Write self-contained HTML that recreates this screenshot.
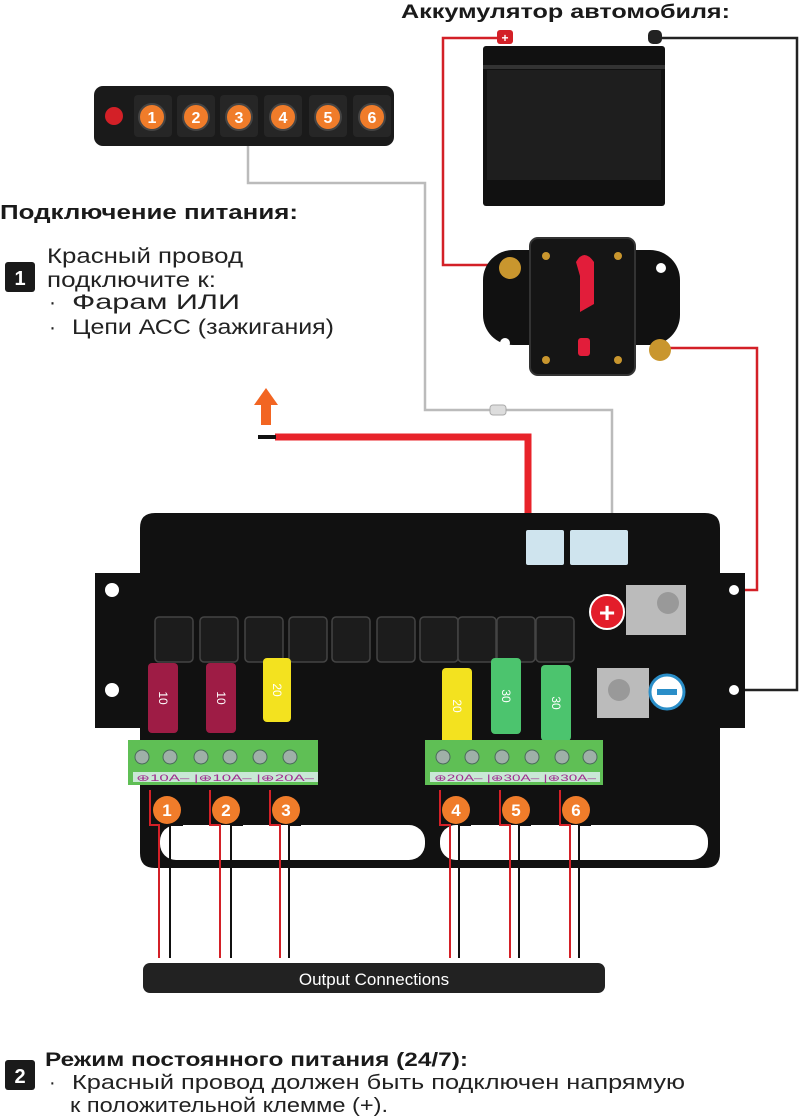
<!DOCTYPE html>
<html><head><meta charset="utf-8"><style>
body{margin:0;background:#fff;width:803px;height:1120px;overflow:hidden;font-family:"Liberation Sans",sans-serif}
svg{display:block}
</style></head><body>
<svg width="803" height="1120" viewBox="0 0 803 1120" xmlns="http://www.w3.org/2000/svg">
<!-- wires -->
<polyline points="505,38 443,38 443,265 505,265" fill="none" stroke="#d32027" stroke-width="2.5"/>
<polyline points="655,38 797,38 797,690 740,690" fill="none" stroke="#222" stroke-width="2.5"/>
<polyline points="668,348 757,348 757,590 690,590" fill="none" stroke="#d32027" stroke-width="2.5"/>
<polyline points="248,145 248,183 425,183 425,410 612,410 612,535" fill="none" stroke="#bbb" stroke-width="2.5"/>
<rect x="490" y="405" width="16" height="10" rx="3" fill="#ddd" stroke="#aaa"/>
<polyline points="275,437 528,437 528,532" fill="none" stroke="#e8232a" stroke-width="7"/>
<line x1="258" y1="437" x2="276" y2="437" stroke="#111" stroke-width="4"/>
<polygon points="266,388 278,405 271,405 271,425 261,425 261,405 254,405" fill="#f26522"/>

<!-- title -->
<text x="401" y="18" font-size="19" font-weight="bold" fill="#1a1a1a" textLength="329" lengthAdjust="spacingAndGlyphs">Аккумулятор автомобиля:</text>
<!-- battery -->
<rect x="497" y="30" width="16" height="14" rx="3" fill="#d32027"/>
<text x="505" y="42" font-size="12" fill="#fff" text-anchor="middle" font-weight="bold">+</text>
<rect x="648" y="30" width="14" height="14" rx="5" fill="#222"/>
<rect x="483" y="46" width="182" height="160" rx="3" fill="#111"/>
<rect x="487" y="70" width="174" height="110" fill="#1e1e1e"/>
<rect x="483" y="65" width="182" height="4" fill="#333"/>
<!-- button panel -->
<rect x="94" y="86" width="300" height="60" rx="9" fill="#1a1a1a"/>
<circle cx="114" cy="116" r="9" fill="#d32027"/>
<g font-size="16" font-weight="bold" fill="#fff" text-anchor="middle">
<rect x="134" y="95" width="38" height="42" rx="4" fill="#262626"/><circle cx="152" cy="117" r="13" fill="#f07c2a" stroke="#444" stroke-width="2"/><text x="152" y="123">1</text>
<rect x="177" y="95" width="38" height="42" rx="4" fill="#262626"/><circle cx="196" cy="117" r="13" fill="#f07c2a" stroke="#444" stroke-width="2"/><text x="196" y="123">2</text>
<rect x="220" y="95" width="38" height="42" rx="4" fill="#262626"/><circle cx="239" cy="117" r="13" fill="#f07c2a" stroke="#444" stroke-width="2"/><text x="239" y="123">3</text>
<rect x="264" y="95" width="38" height="42" rx="4" fill="#262626"/><circle cx="283" cy="117" r="13" fill="#f07c2a" stroke="#444" stroke-width="2"/><text x="283" y="123">4</text>
<rect x="309" y="95" width="38" height="42" rx="4" fill="#262626"/><circle cx="328" cy="117" r="13" fill="#f07c2a" stroke="#444" stroke-width="2"/><text x="328" y="123">5</text>
<rect x="353" y="95" width="38" height="42" rx="4" fill="#262626"/><circle cx="372" cy="117" r="13" fill="#f07c2a" stroke="#444" stroke-width="2"/><text x="372" y="123">6</text>
</g>
<!-- breaker -->
<rect x="483" y="250" width="197" height="95" rx="30" fill="#111"/>
<rect x="530" y="238" width="105" height="137" rx="8" fill="#151515" stroke="#333" stroke-width="2"/>
<circle cx="510" cy="268" r="11" fill="#c9962e"/>
<circle cx="660" cy="350" r="11" fill="#c9962e"/>
<circle cx="661" cy="268" r="5" fill="#fff"/><circle cx="505" cy="343" r="5" fill="#fff"/>
<path d="M576,262 q8,-14 18,0 v42 l-14,8 v-36 z" fill="#e21d3a"/>
<rect x="578" y="338" width="12" height="18" rx="3" fill="#e21d3a"/>
<circle cx="546" cy="256" r="4" fill="#c9962e"/><circle cx="618" cy="256" r="4" fill="#c9962e"/>
<circle cx="546" cy="360" r="4" fill="#c9962e"/><circle cx="618" cy="360" r="4" fill="#c9962e"/>

<!-- texts -->
<text x="0" y="219" font-size="20" font-weight="bold" fill="#1a1a1a" textLength="298" lengthAdjust="spacingAndGlyphs">Подключение питания:</text>
<rect x="5" y="262" width="30" height="30" rx="3" fill="#1a1a1a"/>
<text x="20" y="285" font-size="20" font-weight="bold" fill="#fff" text-anchor="middle">1</text>
<g font-size="21" fill="#222" lengthAdjust="spacingAndGlyphs">
<text x="47" y="263" textLength="196" lengthAdjust="spacingAndGlyphs">Красный провод</text>
<text x="47" y="287" textLength="169" lengthAdjust="spacingAndGlyphs">подключите к:</text>
<text x="49" y="309">·</text>
<text x="72" y="309" textLength="168" lengthAdjust="spacingAndGlyphs">Фарам ИЛИ</text>
<text x="49" y="334">·</text>
<text x="72" y="334" textLength="262" lengthAdjust="spacingAndGlyphs">Цепи АСС (зажигания)</text>
</g>

<!-- main box -->
<path d="M140,528 q0,-15 15,-15 h550 q15,0 15,15 v45 h25 v155 h-25 v125 q0,15 -15,15 h-550 q-15,0 -15,-15 v-125 h-45 v-155 h45 z" fill="#111"/>
<circle cx="112" cy="590" r="7" fill="#fff"/><circle cx="112" cy="690" r="7" fill="#fff"/>
<circle cx="734" cy="590" r="5" fill="#fff"/><circle cx="734" cy="690" r="5" fill="#fff"/>
<rect x="160" y="825" width="265" height="35" rx="16" fill="#fff"/>
<rect x="440" y="825" width="268" height="35" rx="16" fill="#fff"/>
<!-- connectors -->
<rect x="526" y="530" width="38" height="35" rx="2" fill="#cfe4ee"/>
<rect x="570" y="530" width="58" height="35" rx="2" fill="#cfe4ee"/>
<!-- fuse slots -->
<g fill="#1c1c1c" stroke="#444" stroke-width="1.5">
<rect x="155" y="617" width="38" height="45" rx="4"/><rect x="200" y="617" width="38" height="45" rx="4"/>
<rect x="245" y="617" width="38" height="45" rx="4"/><rect x="289" y="617" width="38" height="45" rx="4"/>
<rect x="332" y="617" width="38" height="45" rx="4"/><rect x="377" y="617" width="38" height="45" rx="4"/>
<rect x="420" y="617" width="38" height="45" rx="4"/><rect x="458" y="617" width="38" height="45" rx="4"/>
<rect x="497" y="617" width="38" height="45" rx="4"/><rect x="536" y="617" width="38" height="45" rx="4"/>
</g>
<!-- fuses -->
<rect x="148" y="663" width="30" height="70" rx="4" fill="#9e1c45"/>
<rect x="206" y="663" width="30" height="70" rx="4" fill="#9e1c45"/>
<rect x="263" y="658" width="28" height="64" rx="4" fill="#f3e21f"/>
<rect x="442" y="668" width="30" height="76" rx="4" fill="#f3e21f"/>
<rect x="491" y="658" width="30" height="76" rx="4" fill="#4cc46e"/>
<rect x="541" y="665" width="30" height="76" rx="4" fill="#4cc46e"/>
<g font-size="12" fill="#fff" text-anchor="middle">
<text x="163" y="702" transform="rotate(90 163 698)">10</text>
<text x="221" y="702" transform="rotate(90 221 698)">10</text>
<text x="277" y="694" transform="rotate(90 277 690)">20</text>
<text x="457" y="710" transform="rotate(90 457 706)">20</text>
<text x="506" y="700" transform="rotate(90 506 696)">30</text>
<text x="556" y="707" transform="rotate(90 556 703)">30</text>
</g>
<!-- terminals -->
<rect x="626" y="585" width="60" height="50" fill="#bbb"/><circle cx="668" cy="603" r="11" fill="#999"/>
<circle cx="607" cy="612" r="17" fill="#e31d2a" stroke="#fff" stroke-width="2"/>
<text x="607" y="622" font-size="28" font-weight="bold" fill="#fff" text-anchor="middle">+</text>
<rect x="597" y="668" width="52" height="50" fill="#bbb"/><circle cx="619" cy="690" r="11" fill="#999"/>
<circle cx="667" cy="692" r="17" fill="#fff" stroke="#2a8ec8" stroke-width="3"/>
<rect x="657" y="689" width="20" height="6" fill="#2a8ec8"/>
<!-- green blocks -->
<rect x="128" y="740" width="190" height="45" fill="#5fbf55"/>
<rect x="425" y="740" width="178" height="45" fill="#5fbf55"/>
<rect x="133" y="772" width="185" height="10" fill="#c9e8d6"/>
<rect x="430" y="772" width="170" height="10" fill="#c9e8d6"/>
<g fill="#9fb0a8" stroke="#4a6a5a">
<circle cx="142" cy="757" r="7"/><circle cx="170" cy="757" r="7"/><circle cx="201" cy="757" r="7"/><circle cx="230" cy="757" r="7"/><circle cx="260" cy="757" r="7"/><circle cx="290" cy="757" r="7"/>
<circle cx="443" cy="757" r="7"/><circle cx="472" cy="757" r="7"/><circle cx="502" cy="757" r="7"/><circle cx="532" cy="757" r="7"/><circle cx="562" cy="757" r="7"/><circle cx="590" cy="757" r="7"/>
</g>
<g font-size="9" fill="#a03090">
<text x="136" y="781" textLength="178" lengthAdjust="spacingAndGlyphs">⊕10A– |⊕10A– |⊕20A–</text>
<text x="434" y="781" textLength="162" lengthAdjust="spacingAndGlyphs">⊕20A– |⊕30A– |⊕30A–</text>
</g>
<!-- output wires -->
<g stroke-width="2" fill="none">
<polyline points="150,790 150,825 159,825 159,958" stroke="#d32027"/><polyline points="182,805 182,825 170,825 170,958" stroke="#111"/>
<polyline points="210,790 210,825 220,825 220,958" stroke="#d32027"/><polyline points="242,805 242,825 231,825 231,958" stroke="#111"/>
<polyline points="270,790 270,825 280,825 280,958" stroke="#d32027"/><polyline points="300,805 300,825 289,825 289,958" stroke="#111"/>
<polyline points="440,790 440,825 450,825 450,958" stroke="#d32027"/><polyline points="470,805 470,825 459,825 459,958" stroke="#111"/>
<polyline points="500,790 500,825 510,825 510,958" stroke="#d32027"/><polyline points="530,805 530,825 519,825 519,958" stroke="#111"/>
<polyline points="560,790 560,825 570,825 570,958" stroke="#d32027"/><polyline points="590,805 590,825 579,825 579,958" stroke="#111"/>
</g>
<g font-size="17" font-weight="bold" fill="#fff" text-anchor="middle">
<circle cx="167" cy="810" r="14" fill="#f07c2a"/><text x="167" y="816">1</text>
<circle cx="226" cy="810" r="14" fill="#f07c2a"/><text x="226" y="816">2</text>
<circle cx="286" cy="810" r="14" fill="#f07c2a"/><text x="286" y="816">3</text>
<circle cx="456" cy="810" r="14" fill="#f07c2a"/><text x="456" y="816">4</text>
<circle cx="516" cy="810" r="14" fill="#f07c2a"/><text x="516" y="816">5</text>
<circle cx="576" cy="810" r="14" fill="#f07c2a"/><text x="576" y="816">6</text>
</g>
<rect x="143" y="963" width="462" height="30" rx="7" fill="#222"/>
<text x="374" y="985" font-size="17" fill="#fff" text-anchor="middle">Output Connections</text>

<!-- bottom -->
<rect x="5" y="1060" width="30" height="30" rx="3" fill="#1a1a1a"/>
<text x="20" y="1083" font-size="20" font-weight="bold" fill="#fff" text-anchor="middle">2</text>
<text x="45" y="1066" font-size="19" font-weight="bold" fill="#1a1a1a" textLength="423" lengthAdjust="spacingAndGlyphs">Режим постоянного питания (24/7):</text>
<g font-size="20" fill="#222">
<text x="49" y="1089">·</text>
<text x="72" y="1089" textLength="613" lengthAdjust="spacingAndGlyphs">Красный провод должен быть подключен напрямую</text>
<text x="70" y="1112" textLength="318" lengthAdjust="spacingAndGlyphs">к положительной клемме (+).</text>
</g>
</svg>
</body></html>
